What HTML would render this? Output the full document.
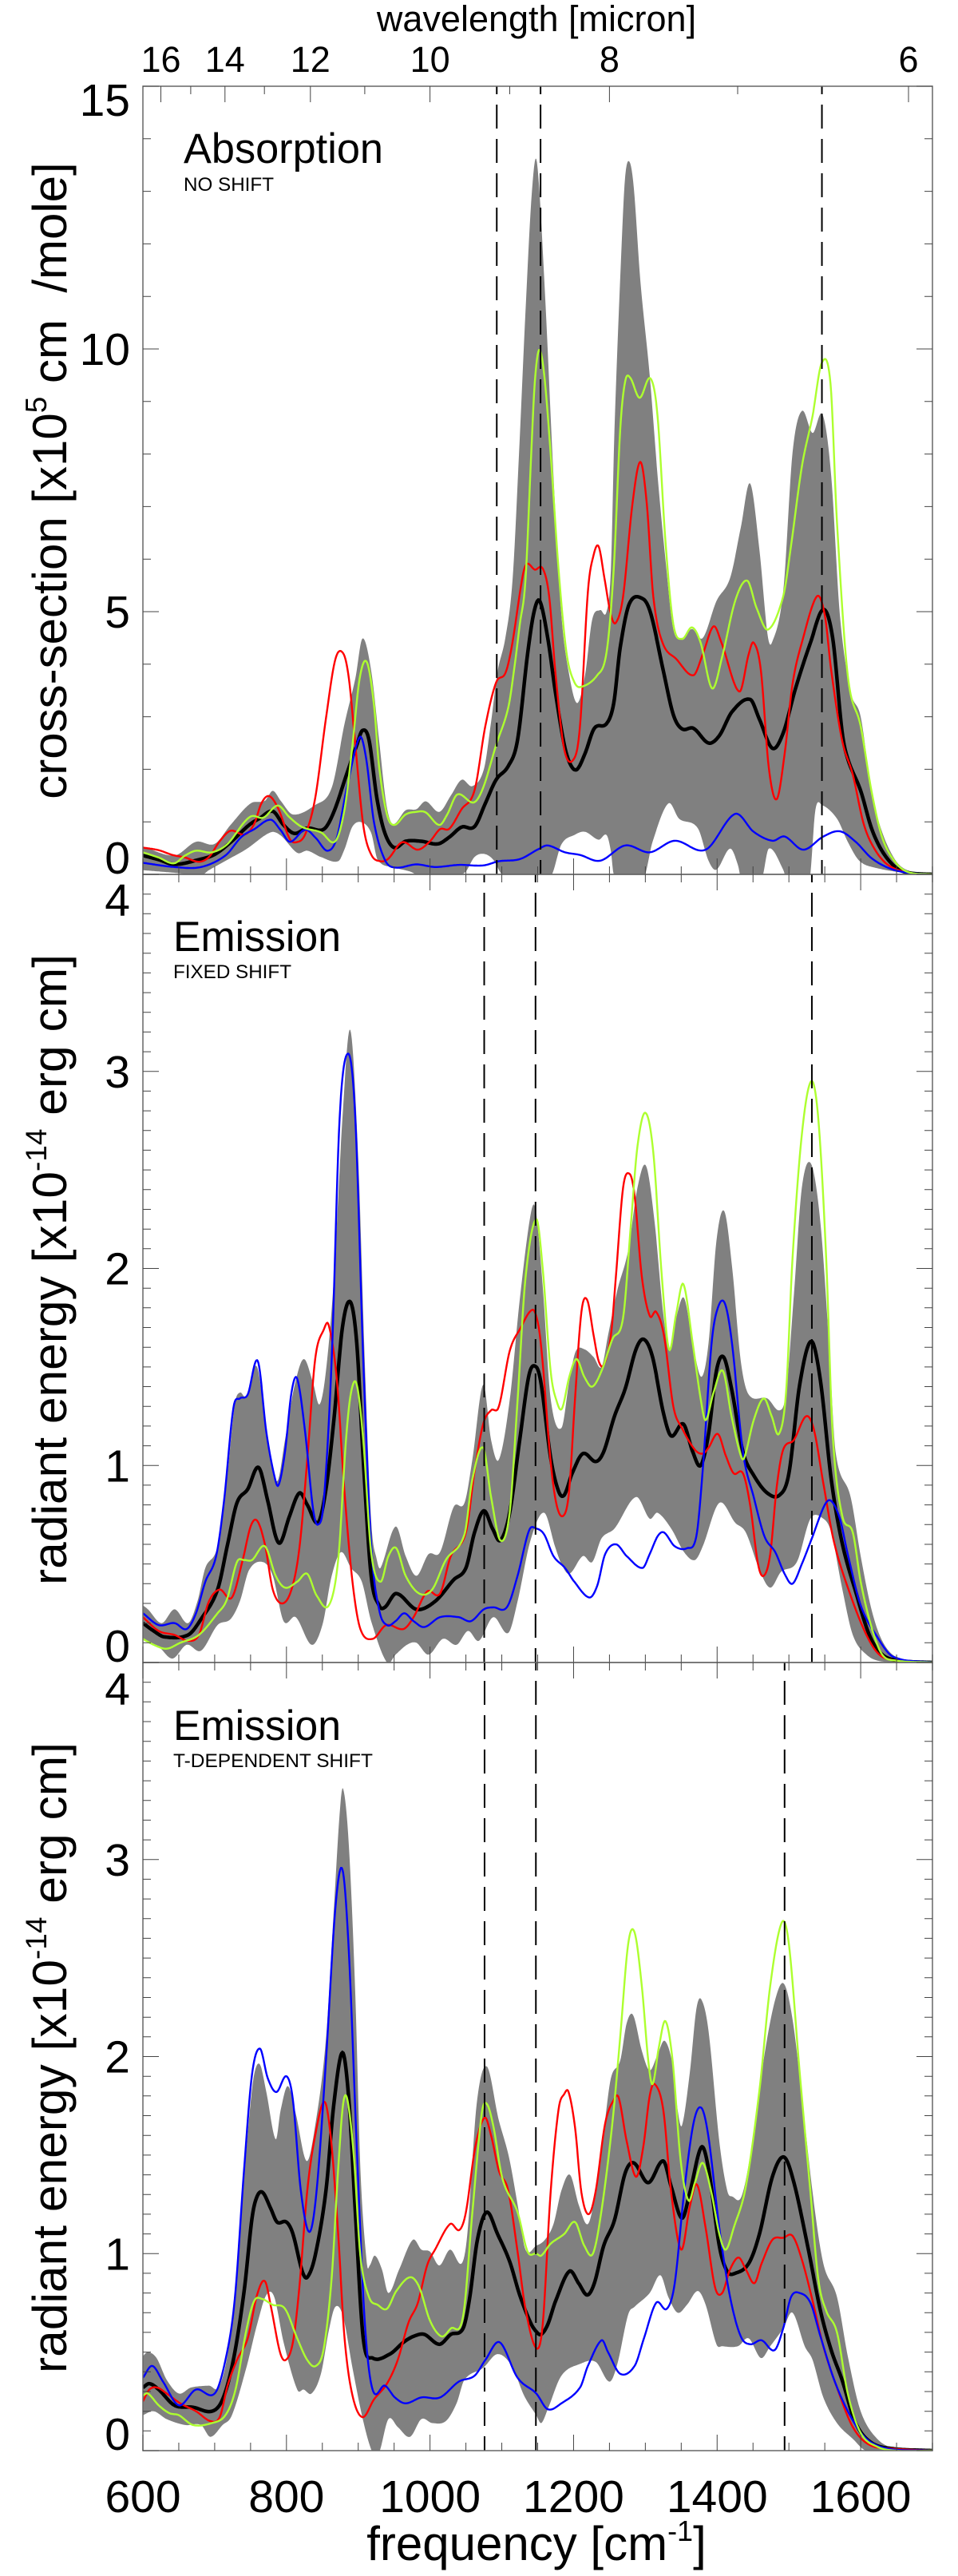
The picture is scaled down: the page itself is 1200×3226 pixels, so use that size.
<!DOCTYPE html>
<html lang="en">
<head>
<meta charset="utf-8">
<title>Absorption and emission spectra</title>
<style>
html,body{margin:0;padding:0;background:#fff}
svg{display:block}
text{font-family:"Liberation Sans",Arial,sans-serif;fill:#000}
</style>
</head>
<body>
<svg id="chart" xmlns="http://www.w3.org/2000/svg" width="1200" height="3226" viewBox="0 0 1200 3226">
<rect x="0" y="0" width="1200" height="3226" fill="#fff"/>
<g id="plots"></g>
<text x="672" y="39" font-size="45" text-anchor="middle">wavelength [micron]</text>
<text x="672" y="3206" font-size="60" text-anchor="middle">frequency [cm<tspan font-size="36" dy="-24">-1</tspan><tspan dy="24">]</tspan></text>
<text transform="translate(83,602) rotate(-90)" font-size="60" text-anchor="middle">cross-section [x10<tspan font-size="37" dy="-25">5</tspan><tspan dy="25"> cm&#160;&#160;/mole]</tspan></text>
<text transform="translate(83,1590) rotate(-90)" font-size="60.5" text-anchor="middle">radiant energy [x10<tspan font-size="37" dy="-25">-14</tspan><tspan dy="25"> erg cm]</tspan></text>
<text transform="translate(83,2577) rotate(-90)" font-size="60.5" text-anchor="middle">radiant energy [x10<tspan font-size="37" dy="-25">-14</tspan><tspan dy="25"> erg cm]</tspan></text>
<text x="230" y="204" font-size="53" textLength="250" lengthAdjust="spacingAndGlyphs">Absorption</text>
<text x="230" y="239" font-size="24" textLength="113" lengthAdjust="spacingAndGlyphs">NO SHIFT</text>
<text x="217" y="1191" font-size="53" textLength="210" lengthAdjust="spacingAndGlyphs">Emission</text>
<text x="217" y="1225" font-size="24" textLength="148" lengthAdjust="spacingAndGlyphs">FIXED SHIFT</text>
<text x="217" y="2179" font-size="53" textLength="210" lengthAdjust="spacingAndGlyphs">Emission</text>
<text x="217" y="2213" font-size="24" textLength="250" lengthAdjust="spacingAndGlyphs">T-DEPENDENT SHIFT</text>
</svg>
<script>
// ---- shared axis data ----
const freqTickValues = [600,650,700,750,800,850,900,950,1000,1050,1100,1150,1200,1250,1300,1350,1400,1450,1500,1550,1600,1650,1700];
const freqTickLabels = [600,800,1000,1200,1400,1600];
const wavelengthTicks = [16,15,14,13,12,11,10,9,8,7,6];
const wavelengthLabels = [16,14,12,10,8,6];
const absYTicks = [0,1,2,3,4,5,6,7,8,9,10,11,12,13,14,15];
const absYLabels = [0,5,10,15];
const emisYTicks = [0,.1,.2,.3,.4,.5,.6,.7,.8,.9,1,1.1,1.2,1.3,1.4,1.5,1.6,1.7,1.8,1.9,2,2.1,2.2,2.3,2.4,2.5,2.6,2.7,2.8,2.9,3,3.1,3.2,3.3,3.4,3.5,3.6,3.7,3.8,3.9,4];
const emisYLabels = [0,1,2,3,4];
const absDashes = [1093,1154,1546];
const fixedDashes = [1075.5,1147,1532];
const tdepDashes = [1076,1147.5,1494];

// ---- panel 1: absorption, no shift  [frequency, value] ----
const absUpper = [[600,.53],[644,.36],[674,.62],[700,.58],[722,.94],[750,1.35],[770,1.4],[781,1.59],[792,1.4],[809,1.14],[840,1.32],[863,1.65],[881,2.87],[896,3.73],[906,4.49],[918,3.88],[929,2.56],[939,1.35],[948,.96],[966,1.22],[981,1.24],[994,1.39],[1013,1.19],[1029,1.5],[1044,1.8],[1059,1.68],[1075,2],[1085,2.9],[1094,3.85],[1105,4.5],[1115,5.6],[1124,8],[1133,10.7],[1142,13],[1149,13.55],[1160,11.1],[1172,7.58],[1183,4.94],[1194,3.79],[1205,3.26],[1216,3.79],[1226,4.85],[1237,5.03],[1246,5],[1252,5.8],[1257,8.47],[1267,12],[1272,13.3],[1278,13.56],[1284,13.05],[1293,11.3],[1306,9.5],[1317,7.6],[1328,6],[1339,4.67],[1351,4.5],[1365,4.67],[1380,4.5],[1399,5.2],[1418,5.64],[1433,6.6],[1446,7.44],[1459,6.17],[1470,4.59],[1476,4.4],[1492,5.38],[1505,8.02],[1518,8.82],[1533,8.4],[1547,8.75],[1559,7.58],[1571,4.94],[1586,3.48],[1600,3],[1615,1.59],[1630,.8],[1649,.26],[1667,.07],[1700,0]];
const absLower = [[600,.08],[644,.03],[681,-.02],[692,.08],[718,.28],[744,.48],[778,.8],[792,.74],[815,.41],[829,.45],[848,.33],[872,.25],[881,.48],[892,.91],[905,.99],[918,.79],[927,.28],[951,.13],[973,.05],[985,-.03],[1022,-.02],[1048,.03],[1062,.33],[1075,.39],[1088,.28],[1100,0],[1120,-.2],[1160,-.1],[1170,0],[1183,.57],[1201,.75],[1216,.81],[1235,.66],[1246,.75],[1252,.44],[1256,0],[1298,-.04],[1310,.62],[1332,1.35],[1347,1.06],[1373,.88],[1388,.26],[1399,.09],[1418,.49],[1429,.18],[1435,-.18],[1462,-.09],[1472,.49],[1492,.09],[1500,-.26],[1528,-.18],[1537,1.23],[1546,1.32],[1567,1.06],[1582,.62],[1598,.26],[1619,.13],[1667,.02],[1700,0]];
const absBlack = [[600,.36],[622,.28],[644,.19],[678,.28],[700,.38],[722,.61],[748,.94],[763,1.07],[781,1.2],[796,.94],[811,.78],[829,.88],[852,.86],[866,1.19],[885,1.95],[898,2.46],[906,2.74],[915,2.56],[926,1.45],[937,.79],[950,.51],[966,.63],[988,.63],[1011,.58],[1027,.71],[1044,.9],[1062,.91],[1077,1.35],[1092,1.8],[1109,2.06],[1122,2.56],[1136,4.2],[1145,5],[1153,5.2],[1164,4.5],[1175,3.44],[1187,2.47],[1196,2.08],[1205,2],[1216,2.3],[1229,2.78],[1246,2.87],[1256,3.26],[1265,4.32],[1278,5.16],[1297,5.24],[1308,4.94],[1325,3.88],[1339,3.04],[1351,2.77],[1367,2.78],[1388,2.5],[1403,2.64],[1421,3.1],[1446,3.33],[1459,2.95],[1477,2.4],[1492,2.69],[1509,3.53],[1530,4.41],[1548,5.04],[1561,4.5],[1574,2.73],[1582,2.2],[1600,1.59],[1615,.88],[1630,.44],[1649,.13],[1667,.03],[1700,0]];
const absRed = [[600,.51],[622,.46],[641,.37],[659,.32],[678,.24],[692,.33],[707,.63],[722,.83],[742,.76],[755,.96],[765,1.35],[776,1.49],[789,1.24],[804,.69],[813,.61],[826,.76],[840,1.45],[855,2.97],[868,4.09],[879,4.21],[887,3.73],[896,2.46],[907,.94],[918,.38],[931,.25],[942,.3],[961,.61],[983,.47],[1000,.63],[1014,.86],[1027,.87],[1044,1.24],[1062,1.6],[1077,2.82],[1092,3.65],[1105,3.83],[1114,4.34],[1129,5.67],[1135,5.91],[1146,5.8],[1157,5.82],[1166,5.29],[1175,3.79],[1187,2.38],[1200,2.19],[1209,2.82],[1220,5.38],[1228,6.08],[1235,6.24],[1243,5.64],[1252,4.94],[1259,4.79],[1269,5.29],[1282,7.05],[1293,7.85],[1302,7.05],[1311,5.29],[1324,4.41],[1343,4.1],[1367,3.79],[1380,4.19],[1395,4.72],[1406,4.41],[1431,3.48],[1444,4.19],[1451,4.41],[1461,3.88],[1472,2.03],[1483,1.43],[1494,2.29],[1505,3.62],[1518,4.41],[1539,5.29],[1550,4.94],[1559,3.88],[1574,2.56],[1589,1.9],[1604,.97],[1619,.49],[1638,.18],[1667,.03],[1700,0]];
const absGreen = [[600,.42],[622,.32],[643,.21],[659,.36],[674,.45],[696,.42],[718,.58],[741,.99],[752,1.11],[768,1.08],[788,1.31],[804,1.09],[822,.9],[848,.8],[868,.63],[881,1.24],[892,2.46],[902,3.73],[912,4.04],[922,3.22],[929,2.06],[940,1.14],[950,.94],[966,1.14],[981,1.19],[994,1.18],[1013,.94],[1024,1.14],[1038,1.52],[1061,1.37],[1074,1.65],[1092,2.46],[1109,3.17],[1118,3.98],[1125,4.75],[1133,5.6],[1141,8],[1146,9.37],[1152,9.98],[1159,9.52],[1168,8.02],[1179,5.82],[1190,4.23],[1201,3.66],[1211,3.57],[1233,3.79],[1246,4.23],[1256,5.82],[1265,8.47],[1272,9.39],[1279,9.45],[1292,9.07],[1307,9.44],[1317,8.73],[1328,6.35],[1339,4.76],[1351,4.48],[1365,4.7],[1377,4.41],[1393,3.54],[1407,4.14],[1425,5.2],[1442,5.59],[1455,5.07],[1471,4.66],[1492,5.29],[1503,6.26],[1518,7.76],[1533,8.73],[1546,9.74],[1558,9.34],[1567,6.7],[1582,3.79],[1600,2.82],[1615,1.59],[1630,.7],[1649,.22],[1667,.04],[1700,0]];
const absBlue = [[600,.22],[644,.14],[681,.14],[715,.36],[737,.71],[755,.86],[778,1.04],[792,.84],[805,.62],[826,.85],[841,.69],[857,.45],[870,.69],[885,1.7],[902,2.61],[911,2.21],[922,.99],[937,.28],[951,.13],[981,.19],[1007,.14],[1040,.18],[1074,.17],[1096,.25],[1125,.29],[1151,.48],[1164,.55],[1188,.42],[1209,.37],[1237,.26],[1272,.55],[1306,.42],[1341,.64],[1384,.47],[1425,1.15],[1451,.81],[1477,.64],[1494,.72],[1520,.47],[1548,.72],[1571,.82],[1593,.62],[1615,.31],[1641,.11],[1667,.03],[1700,0]];

// ---- panel 2: emission, fixed shift ----
const fixedUpper = [[600,.29],[607,.27],[626,.2],[644,.27],[663,.2],[676,.31],[687,.48],[704,.59],[717,.93],[728,1.31],[735,1.37],[744,1.35],[759,1.5],[774,1.11],[787,.92],[798,1.13],[811,1.4],[824,1.54],[837,1.42],[846,1.31],[855,1.48],[866,1.95],[878,2.76],[889,3.21],[900,2.56],[909,1.54],[918,.72],[926,.52],[931,.48],[952,.69],[966,.54],[981,.44],[998,.55],[1014,.56],[1033,.79],[1048,.81],[1059,1.03],[1074,1.41],[1085,1.13],[1096,1.03],[1111,1.33],[1125,1.84],[1140,2.27],[1147,2.3],[1157,1.91],[1168,1.34],[1183,1.19],[1194,1.43],[1203,1.58],[1215,1.59],[1228,1.55],[1239,1.5],[1248,1.66],[1261,1.89],[1276,2.09],[1289,2.41],[1301,2.52],[1313,2.23],[1325,1.77],[1334,1.59],[1343,1.75],[1354,1.85],[1366,1.62],[1378,1.45],[1388,1.62],[1399,2.14],[1410,2.29],[1421,2],[1433,1.53],[1444,1.36],[1470,1.34],[1487,1.28],[1496,1.37],[1507,1.87],[1518,2.41],[1531,2.53],[1544,2.23],[1556,1.61],[1565,1.07],[1586,.84],[1600,.54],[1615,.27],[1630,.11],[1649,.03],[1700,0]];
const fixedLower = [[600,.12],[622,.08],[641,.02],[661,.09],[681,.06],[704,.19],[722,.22],[735,.31],[748,.47],[767,.51],[781,.44],[796,.21],[813,.23],[835,.09],[850,.19],[863,.44],[876,.56],[890,.48],[905,.41],[918,.21],[940,0],[952,.04],[968,.09],[981,.1],[998,.04],[1018,.12],[1037,.09],[1053,.16],[1068,.11],[1088,.23],[1109,.15],[1122,.31],[1140,.62],[1159,.76],[1174,.59],[1183,.5],[1194,.45],[1213,.54],[1226,.51],[1239,.63],[1257,.68],[1287,.84],[1306,.73],[1317,.76],[1336,.68],[1354,.56],[1369,.52],[1380,.59],[1403,.81],[1425,.71],[1440,.66],[1459,.47],[1474,.38],[1489,.46],[1511,.51],[1530,.73],[1548,.73],[1559,.66],[1574,.38],[1589,.14],[1608,.04],[1630,.005],[1700,0]];
const fixedBlack = [[600,.2],[615,.16],[630,.13],[663,.14],[681,.22],[704,.37],[718,.6],[731,.81],[746,.88],[761,.99],[774,.82],[785,.64],[792,.61],[804,.74],[818,.86],[829,.8],[844,.71],[855,.88],[866,1.23],[878,1.7],[889,1.83],[898,1.62],[907,1.03],[918,.44],[929,.29],[937,.28],[953,.35],[981,.27],[1007,.31],[1033,.42],[1050,.48],[1062,.66],[1075,.77],[1087,.68],[1098,.62],[1111,.76],[1125,1.13],[1138,1.46],[1148,1.5],[1155,1.41],[1168,1.04],[1179,.87],[1187,.85],[1198,.96],[1213,1.06],[1231,1.02],[1242,1.07],[1257,1.25],[1272,1.39],[1287,1.59],[1298,1.64],[1310,1.55],[1325,1.27],[1336,1.15],[1353,1.21],[1366,1.07],[1377,1],[1388,1.16],[1399,1.48],[1409,1.55],[1420,1.39],[1436,1.07],[1451,.95],[1470,.86],[1487,.85],[1500,.96],[1515,1.41],[1531,1.63],[1544,1.43],[1559,.93],[1574,.61],[1593,.36],[1612,.14],[1630,.04],[1653,.01],[1700,0]];
const fixedRed = [[600,.23],[622,.16],[644,.14],[663,.11],[678,.14],[692,.31],[707,.37],[724,.33],[739,.52],[750,.69],[759,.72],[770,.6],[781,.37],[794,.3],[807,.37],[818,.58],[829,1.03],[840,1.54],[852,1.69],[859,1.71],[870,1.44],[881,.86],[892,.41],[903,.17],[920,.12],[939,.19],[963,.17],[977,.23],[996,.36],[1014,.35],[1029,.54],[1050,.66],[1062,.97],[1074,1.21],[1085,1.28],[1096,1.3],[1111,1.58],[1125,1.69],[1143,1.79],[1151,1.71],[1157,1.52],[1168,1.02],[1177,.79],[1187,.75],[1194,.88],[1202,1.34],[1211,1.78],[1219,1.84],[1228,1.66],[1235,1.53],[1242,1.51],[1252,1.66],[1259,1.96],[1269,2.41],[1278,2.48],[1285,2.37],[1295,1.96],[1306,1.76],[1315,1.78],[1326,1.66],[1339,1.3],[1351,1.19],[1369,1.08],[1380,1.06],[1388,1.09],[1401,1.16],[1412,1.05],[1423,.96],[1436,.96],[1446,.8],[1457,.5],[1465,.44],[1474,.55],[1483,.89],[1492,1.08],[1507,1.13],[1524,1.25],[1535,1.18],[1548,.91],[1563,.61],[1586,.34],[1608,.14],[1626,.04],[1649,.01],[1700,0]];
const fixedGreen = [[600,.12],[615,.09],[633,.07],[652,.1],[678,.14],[704,.25],[717,.32],[731,.51],[741,.52],[752,.52],[770,.59],[785,.44],[798,.38],[815,.41],[829,.45],[842,.34],[859,.29],[872,.52],[883,1.13],[890,1.37],[898,1.41],[907,1.13],[918,.56],[931,.41],[942,.54],[953,.58],[966,.44],[985,.35],[1003,.37],[1022,.52],[1048,.65],[1059,.93],[1074,1.09],[1085,.84],[1098,.62],[1111,.76],[1122,1.33],[1133,1.95],[1148,2.25],[1157,2],[1168,1.48],[1177,1.32],[1184,1.29],[1194,1.45],[1204,1.54],[1215,1.45],[1226,1.4],[1239,1.48],[1254,1.64],[1269,1.75],[1280,2.23],[1289,2.62],[1300,2.79],[1311,2.59],[1323,1.96],[1333,1.59],[1343,1.77],[1353,1.92],[1366,1.62],[1377,1.34],[1384,1.23],[1395,1.37],[1408,1.48],[1420,1.25],[1433,1.05],[1438,1.04],[1451,1.23],[1465,1.34],[1476,1.25],[1486,1.16],[1496,1.37],[1505,2.05],[1518,2.68],[1531,2.95],[1541,2.76],[1552,2.05],[1561,1.16],[1574,.75],[1589,.66],[1600,.41],[1615,.18],[1630,.04],[1649,.01],[1700,0]];
const fixedBlue = [[600,.25],[622,.19],[644,.2],[661,.17],[674,.25],[687,.41],[702,.54],[713,.82],[726,1.29],[735,1.34],[746,1.36],[760,1.53],[772,1.17],[783,.95],[789,.9],[798,1.07],[807,1.37],[815,1.44],[826,1.17],[837,.78],[844,.7],[852,.82],[863,1.54],[874,2.76],[886,3.09],[896,2.76],[907,1.54],[918,.6],[929,.27],[940,.19],[952,.21],[964,.25],[977,.21],[992,.18],[1014,.23],[1040,.23],[1057,.21],[1075,.27],[1088,.28],[1107,.28],[1122,.44],[1138,.67],[1148,.68],[1159,.65],[1172,.54],[1188,.48],[1201,.41],[1222,.33],[1233,.39],[1244,.55],[1259,.6],[1274,.54],[1296,.48],[1306,.55],[1317,.64],[1326,.66],[1341,.59],[1358,.58],[1371,.64],[1380,.98],[1392,1.61],[1401,1.8],[1411,1.82],[1421,1.61],[1436,1.07],[1451,.84],[1466,.64],[1481,.56],[1494,.45],[1505,.4],[1518,.5],[1533,.64],[1550,.8],[1559,.82],[1571,.73],[1582,.55],[1600,.29],[1623,.13],[1645,.03],[1700,0]];

// ---- panel 3: emission, T-dependent shift ----
const tdepUpper = [[600,.48],[607,.5],[619,.47],[633,.36],[650,.29],[667,.32],[692,.33],[707,.33],[722,.59],[737,1.21],[748,1.69],[755,1.91],[763,1.96],[772,1.82],[785,1.58],[792,1.73],[802,1.85],[813,1.71],[828,1.47],[840,1.65],[855,2.09],[866,2.75],[874,3.23],[879,3.36],[887,3.07],[896,2.31],[903,1.43],[912,.95],[916,.94],[923,.99],[933,.92],[942,.8],[957,.92],[976,1.07],[988,1.02],[1000,1.01],[1013,.94],[1028,1.02],[1044,.95],[1052,1.1],[1065,1.76],[1079,1.95],[1095,1.69],[1110,1.49],[1122,1.25],[1133,1.02],[1148,1.04],[1160,1.07],[1172,1.15],[1183,1.32],[1195,1.4],[1207,1.25],[1220,1.15],[1231,1.32],[1242,1.62],[1252,1.89],[1265,1.98],[1274,2.17],[1283,2.21],[1295,2.03],[1306,1.93],[1317,2.01],[1327,2.08],[1338,1.96],[1345,1.73],[1351,1.65],[1362,1.92],[1371,2.24],[1378,2.29],[1388,2.13],[1403,1.57],[1414,1.32],[1421,1.29],[1434,1.29],[1448,1.54],[1466,2.01],[1481,2.29],[1493,2.37],[1505,2.19],[1518,1.8],[1533,1.31],[1548,.95],[1567,.78],[1582,.48],[1600,.2],[1623,.06],[1649,.01],[1700,0]];
const tdepLower = [[600,.18],[615,.2],[633,.16],[659,.13],[681,.13],[694,.07],[711,.13],[724,.18],[744,.42],[759,.64],[772,.79],[783,.78],[796,.55],[815,.31],[824,.31],[835,.29],[848,.39],[859,.61],[868,.73],[879,.68],[892,.42],[907,.15],[920,-.01],[929,-.01],[942,.16],[955,.12],[972,.07],[988,.16],[1003,.14],[1022,.15],[1037,.24],[1048,.36],[1074,.42],[1094,.49],[1114,.43],[1131,.28],[1148,.18],[1155,.14],[1164,.21],[1183,.38],[1209,.44],[1231,.45],[1250,.35],[1261,.44],[1276,.69],[1285,.73],[1306,.8],[1321,.89],[1332,.78],[1345,.7],[1358,.74],[1373,.81],[1384,.74],[1399,.54],[1407,.53],[1429,.53],[1444,.57],[1461,.47],[1474,.53],[1492,.62],[1505,.7],[1522,.53],[1533,.46],[1548,.27],[1567,.14],[1589,.06],[1608,0],[1700,0]];
const tdepBlack = [[600,.32],[609,.34],[622,.31],[644,.23],[670,.22],[696,.2],[711,.26],[726,.46],[741,.81],[752,1.18],[759,1.29],[767,1.31],[778,1.23],[787,1.16],[800,1.16],[809,1.1],[822,.91],[829,.88],[840,.99],[855,1.32],[866,1.76],[878,2.02],[887,1.78],[896,1.21],[907,.57],[920,.47],[944,.49],[963,.55],[977,.58],[992,.59],[1013,.54],[1029,.59],[1046,.62],[1055,.77],[1066,1.07],[1079,1.21],[1094,1.1],[1111,.96],[1125,.79],[1140,.65],[1149,.6],[1155,.59],[1164,.64],[1175,.76],[1194,.91],[1207,.85],[1219,.79],[1229,.85],[1242,1.04],[1257,1.17],[1272,1.41],[1284,1.46],[1304,1.36],[1325,1.47],[1336,1.34],[1351,1.18],[1362,1.31],[1378,1.54],[1388,1.43],[1403,1.04],[1414,.91],[1425,.9],[1444,.95],[1459,1.1],[1477,1.39],[1493,1.49],[1507,1.36],[1526,1.04],[1544,.71],[1559,.51],[1574,.36],[1593,.14],[1615,.04],[1645,.01],[1700,0]];
const tdepRed = [[600,.25],[609,.31],[620,.32],[633,.29],[652,.24],[674,.2],[694,.15],[707,.17],[718,.33],[731,.46],[746,.57],[759,.79],[770,.86],[779,.72],[791,.5],[799,.46],[809,.55],[818,.83],[829,1.32],[840,1.6],[853,1.77],[862,1.58],[872,1.1],[881,.57],[892,.28],[906,.17],[922,.26],[940,.34],[955,.46],[970,.65],[983,.75],[996,.94],[1007,1.02],[1028,1.15],[1041,1.12],[1050,1.21],[1063,1.54],[1076,1.69],[1085,1.6],[1096,1.42],[1109,1.32],[1122,1.01],[1133,.72],[1148,.52],[1157,.64],[1168,1.31],[1179,1.73],[1187,1.81],[1193,1.82],[1202,1.64],[1211,1.31],[1221,1.2],[1231,1.32],[1244,1.66],[1256,1.78],[1263,1.79],[1274,1.57],[1287,1.39],[1297,1.54],[1306,1.8],[1313,1.86],[1325,1.73],[1336,1.31],[1350,1.02],[1362,1.24],[1372,1.35],[1384,1.13],[1397,.83],[1407,.8],[1418,.92],[1430,.98],[1440,.92],[1452,.85],[1462,.95],[1477,1.07],[1492,1.08],[1505,1.09],[1518,.97],[1533,.76],[1548,.53],[1567,.32],[1589,.12],[1612,.03],[1645,.01],[1700,0]];
const tdepGreen = [[600,.28],[607,.29],[622,.23],[637,.19],[650,.18],[670,.13],[696,.14],[715,.18],[729,.31],[744,.61],[755,.76],[766,.77],[781,.74],[798,.72],[815,.57],[829,.46],[841,.43],[852,.52],[863,.88],[872,1.43],[879,1.76],[885,1.78],[894,1.49],[903,.99],[915,.78],[927,.74],[940,.72],[953,.81],[972,.88],[985,.83],[1000,.66],[1016,.58],[1029,.62],[1046,.68],[1059,1.21],[1072,1.71],[1079,1.76],[1088,1.65],[1101,1.38],[1122,1.21],[1136,1.01],[1148,1],[1155,.99],[1168,1.05],[1187,1.1],[1202,1.16],[1215,1.04],[1227,1],[1239,1.22],[1254,1.66],[1265,2.1],[1276,2.57],[1285,2.63],[1295,2.36],[1304,1.98],[1310,1.86],[1319,2.05],[1328,2.18],[1338,1.98],[1349,1.48],[1360,1.27],[1369,1.36],[1380,1.46],[1392,1.31],[1403,1.1],[1412,1.02],[1423,1.13],[1440,1.34],[1459,1.83],[1474,2.36],[1490,2.68],[1500,2.57],[1515,1.92],[1530,1.31],[1541,.87],[1552,.71],[1567,.6],[1582,.29],[1600,.09],[1623,.02],[1649,0],[1700,0]];
const tdepBlue = [[600,.37],[613,.43],[628,.35],[650,.23],[674,.31],[700,.29],[715,.46],[728,.77],[741,1.43],[752,1.91],[763,2.04],[774,1.89],[786,1.82],[800,1.9],[809,1.78],[820,1.32],[832,1.11],[842,1.32],[855,1.98],[868,2.75],[878,2.95],[887,2.53],[898,1.54],[909,.66],[920,.31],[937,.33],[951,.27],[966,.24],[988,.27],[1014,.27],[1040,.35],[1062,.38],[1077,.46],[1097,.55],[1122,.37],[1148,.29],[1164,.21],[1183,.24],[1209,.32],[1220,.43],[1239,.56],[1248,.5],[1265,.39],[1285,.43],[1298,.57],[1315,.75],[1330,.72],[1341,.85],[1354,1.31],[1367,1.66],[1378,1.74],[1388,1.59],[1403,1.13],[1418,.78],[1433,.58],[1446,.54],[1462,.56],[1480,.51],[1492,.62],[1503,.78],[1515,.8],[1530,.75],[1544,.58],[1563,.36],[1585,.18],[1608,.06],[1638,.01],[1700,0]];

// ---- axis geometry ----
const xLeft = 179, xRight = 1168, freqMin = 600, freqMax = 1700;
function sx(f){ return xLeft + (f - freqMin) * (xRight - xLeft) / (freqMax - freqMin); }
function makeSy(top, bottom, vMax){ return function(v){ return bottom - v * (bottom - top) / vMax; }; }

// Piecewise cubic Hermite sampling through the knots.
function sample(knots){
  const out = [];
  const n = knots.length;
  const slope = i => {
    const a = knots[Math.max(0, i - 1)], b = knots[Math.min(n - 1, i + 1)];
    return (b[1] - a[1]) / (b[0] - a[0]);
  };
  for (let i = 0; i < n - 1; i++) {
    const p = knots[i], q = knots[i + 1], h = q[0] - p[0], m0 = slope(i), m1 = slope(i + 1);
    const steps = Math.max(2, Math.ceil(h));
    for (let s = 0; s < steps; s++) {
      const t = s / steps, t2 = t * t, t3 = t2 * t;
      const v = (2*t3 - 3*t2 + 1) * p[1] + (t3 - 2*t2 + t) * h * m0 + (-2*t3 + 3*t2) * q[1] + (t3 - t2) * h * m1;
      out.push([p[0] + t * h, v]);
    }
  }
  out.push(knots[n - 1]);
  return out;
}
function pathOf(points, sy){
  return points.map((p, i) => (i ? 'L' : 'M') + sx(p[0]).toFixed(1) + ' ' + sy(p[1]).toFixed(1)).join('');
}

const NS = 'http://www.w3.org/2000/svg';
const plots = document.getElementById('plots');

function drawPanel(cfg){
  const sy = makeSy(cfg.top, cfg.bottom, cfg.vMax);
  const g = document.createElementNS(NS, 'g');
  
  
  plots.appendChild(g);

  const defs = document.createElementNS(NS, 'defs');
  const clip = document.createElementNS(NS, 'clipPath');
  clip.setAttribute('id', cfg.id + '-clip');
  const cr = document.createElementNS(NS, 'rect');
  cr.setAttribute('x', xLeft);
  cr.setAttribute('y', cfg.top);
  cr.setAttribute('width', xRight - xLeft);
  cr.setAttribute('height', cfg.bottom - cfg.top);
  clip.appendChild(cr);
  defs.appendChild(clip);
  g.appendChild(defs);

  const marks = document.createElementNS(NS, 'g');
  marks.setAttribute('clip-path', 'url(#' + cfg.id + '-clip)');
  
  
  g.appendChild(marks);

  // gray envelope band
  const upperPts = sample(cfg.upper);
  const lowerPts = sample(cfg.lower).reverse();
  const band = document.createElementNS(NS, 'path');
  band.setAttribute('d', pathOf(upperPts, sy) + pathOf(lowerPts, sy).replace('M', 'L') + 'Z');
  band.setAttribute('fill', '#808080');
  
  
  marks.appendChild(band);

  // series lines
  const blackLine = document.createElementNS(NS, 'path');
  blackLine.setAttribute('d', pathOf(sample(cfg.black), sy));
  blackLine.setAttribute('fill', 'none');
  blackLine.setAttribute('stroke', '#000');
  blackLine.setAttribute('stroke-width', '4.5');
  
  
  marks.appendChild(blackLine);

  const redLine = document.createElementNS(NS, 'path');
  redLine.setAttribute('d', pathOf(sample(cfg.red), sy));
  redLine.setAttribute('fill', 'none');
  redLine.setAttribute('stroke', '#ff0000');
  redLine.setAttribute('stroke-width', '2.4');
  
  
  marks.appendChild(redLine);

  const blueLine = document.createElementNS(NS, 'path');
  blueLine.setAttribute('d', pathOf(sample(cfg.blue), sy));
  blueLine.setAttribute('fill', 'none');
  blueLine.setAttribute('stroke', '#0000ff');
  blueLine.setAttribute('stroke-width', '2.4');
  
  
  marks.appendChild(blueLine);

  const greenLine = document.createElementNS(NS, 'path');
  greenLine.setAttribute('d', pathOf(sample(cfg.green), sy));
  greenLine.setAttribute('fill', 'none');
  greenLine.setAttribute('stroke', '#adff2f');
  greenLine.setAttribute('stroke-width', '2.4');
  
  
  marks.appendChild(greenLine);

  // dashed reference lines
  cfg.dashes.forEach(f => {
    const d = document.createElementNS(NS, 'line');
    d.setAttribute('x1', sx(f));
    d.setAttribute('x2', sx(f));
    d.setAttribute('y1', cfg.top);
    d.setAttribute('y2', cfg.bottom);
    d.setAttribute('stroke', '#000');
    d.setAttribute('stroke-width', '2');
    d.setAttribute('stroke-dasharray', '30 13');
    d.setAttribute('stroke-dashoffset', '20');
    
    
    g.appendChild(d);
  });

  // frame
  const frame = document.createElementNS(NS, 'rect');
  frame.setAttribute('x', xLeft);
  frame.setAttribute('y', cfg.top);
  frame.setAttribute('width', xRight - xLeft);
  frame.setAttribute('height', cfg.bottom - cfg.top);
  frame.setAttribute('fill', 'none');
  frame.setAttribute('stroke', '#666');
  frame.setAttribute('stroke-width', '1.5');
  
  
  g.appendChild(frame);

  // ticks
  let tickPath = '';
  freqTickValues.forEach(f => {
    const len = (f % 200 === 0) ? 20 : 10;
    tickPath += 'M' + sx(f) + ' ' + cfg.bottom + 'v' + (-len);
    if (cfg.mirrorTop) tickPath += 'M' + sx(f) + ' ' + cfg.top + 'v' + len;
  });
  cfg.yTicks.forEach(v => {
    const len = cfg.yLabels.includes(v) ? 20 : 10;
    tickPath += 'M' + xLeft + ' ' + sy(v).toFixed(1) + 'h' + len;
    tickPath += 'M' + xRight + ' ' + sy(v).toFixed(1) + 'h' + (-len);
  });
  const ticks = document.createElementNS(NS, 'path');
  ticks.setAttribute('d', tickPath);
  ticks.setAttribute('fill', 'none');
  ticks.setAttribute('stroke', '#444');
  ticks.setAttribute('stroke-width', '1');
  
  
  g.appendChild(ticks);

  // y tick labels
  cfg.yLabels.forEach(v => {
    let base = sy(v) + 20;
    if (v === cfg.vMax) base = cfg.top + cfg.topShift;
    if (v === 0) base = cfg.bottom - 1;
    const t = document.createElementNS(NS, 'text');
    t.setAttribute('x', 163);
    t.setAttribute('y', base);
    t.setAttribute('font-size', '57');
    t.setAttribute('text-anchor', 'end');
    
    
    t.textContent = String(v);
    g.appendChild(t);
  });
}

drawPanel({id:'absorption', top:108, bottom:1095, vMax:15, topShift:37, mirrorTop:false, yTicks:absYTicks, yLabels:absYLabels, dashes:absDashes, upper:absUpper, lower:absLower, black:absBlack, red:absRed, green:absGreen, blue:absBlue});
drawPanel({id:'fixed-shift', top:1095, bottom:2082, vMax:4, topShift:52, mirrorTop:true, yTicks:emisYTicks, yLabels:emisYLabels, dashes:fixedDashes, upper:fixedUpper, lower:fixedLower, black:fixedBlack, red:fixedRed, green:fixedGreen, blue:fixedBlue});
drawPanel({id:'t-dependent', top:2082, bottom:3069, vMax:4, topShift:53, mirrorTop:true, yTicks:emisYTicks, yLabels:emisYLabels, dashes:tdepDashes, upper:tdepUpper, lower:tdepLower, black:tdepBlack, red:tdepRed, green:tdepGreen, blue:tdepBlue});

// bottom frequency labels
freqTickLabels.forEach(f => {
  const t = document.createElementNS(NS, 'text');
  t.setAttribute('x', sx(f));
  t.setAttribute('y', 3146);
  t.setAttribute('font-size', '57');
  t.setAttribute('text-anchor', 'middle');
  
  
  t.textContent = String(f);
  plots.appendChild(t);
});

// top wavelength axis
let topTicks = '';
wavelengthTicks.forEach(w => {
  const len = wavelengthLabels.includes(w) ? 20 : 10;
  topTicks += 'M' + sx(10000 / w).toFixed(1) + ' 108v' + len;
});
const topTickPath = document.createElementNS(NS, 'path');
topTickPath.setAttribute('d', topTicks);
topTickPath.setAttribute('fill', 'none');
topTickPath.setAttribute('stroke', '#444');
topTickPath.setAttribute('stroke-width', '1');


plots.appendChild(topTickPath);

wavelengthLabels.forEach(w => {
  const t = document.createElementNS(NS, 'text');
  t.setAttribute('x', sx(10000 / w));
  t.setAttribute('y', 90);
  t.setAttribute('font-size', '45');
  t.setAttribute('text-anchor', 'middle');
  
  
  t.textContent = String(w);
  plots.appendChild(t);
});
</script>
</body>
</html>
